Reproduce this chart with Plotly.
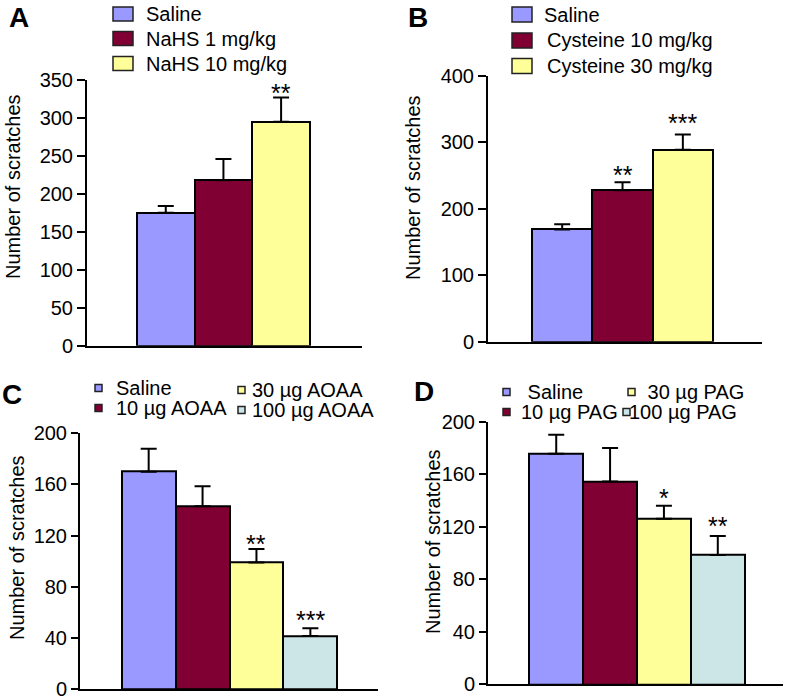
import plotly.graph_objects as go

W, H = 787, 699
FONT = "Liberation Sans, Arial, sans-serif"
BLUE = "#9999FF"
MAROON = "#800033"
YELLOW = "#FFFF99"
CYAN = "#CCE6E8"

# Panel A: NaHS
a_labels = ["Saline", "NaHS 1 mg/kg", "NaHS 10 mg/kg"]
a_mean = [175, 218, 295]
a_sem = [9, 28, 32]
a_stars = ["", "", "**"]
a_star_y = [None, None, 340]

# Panel B: Cysteine
b_labels = ["Saline", "Cysteine 10 mg/kg", "Cysteine 30 mg/kg"]
b_mean = [169, 228, 289]
b_sem = [8, 12, 23]
b_stars = ["", "**", "***"]
b_star_y = [None, 258, 337]

# Panel C: AOAA
c_labels = ["Saline", "10 µg AOAA", "30 µg AOAA", "100 µg AOAA"]
c_mean = [170, 143, 99, 41.5]
c_sem = [18, 15.5, 10.5, 6]
c_stars = ["", "", "**", "***"]
c_star_y = [None, None, 117, 58]

# Panel D: PAG
d_labels = ["Saline", "10 µg PAG", "30 µg PAG", "100 µg PAG"]
d_mean = [175.5, 154.5, 126, 98.5]
d_sem = [14.5, 25.5, 10, 14.5]
d_stars = ["", "", "*", "**"]
d_star_y = [None, None, 146, 124]

colors3 = [BLUE, MAROON, YELLOW]
colors4 = [BLUE, MAROON, YELLOW, CYAN]


def px(x):
    return x / W


def py(y):
    return 1 - y / H


fig = go.Figure()
annotations = []
shapes = []

panels = [
    # suffix, labels, means, sems, stars, star_y, colors, x px, y px, xrange, yrange, dtick, ticklen
    ("", a_labels, a_mean, a_sem, a_stars, a_star_y, colors3,
     (87, 362), (345.7, 80), (-1.366, 3.403), (0, 350), 50, 8),
    ("2", b_labels, b_mean, b_sem, b_stars, b_star_y, colors3,
     (488, 762), (341.7, 76), (-1.23, 3.312), (0, 400), 100, 8),
    ("3", c_labels, c_mean, c_sem, c_stars, c_star_y, colors4,
     (80, 378), (689, 433.3), (-1.274, 4.255), (0, 200), 40, 7),
    ("4", d_labels, d_mean, d_sem, d_stars, d_star_y, colors4,
     (488, 783), (684.3, 421.7), (-1.267, 4.211), (0, 200), 40, 7),
]

for suf, labels, means, sems, stars, star_y, cols, xp, yp, xr, yr, dtick, tl in panels:
    xs = list(range(len(means)))
    fig.add_trace(go.Bar(
        x=xs, y=means, width=1, xaxis="x" + suf, yaxis="y" + suf,
        marker=dict(color=cols, line=dict(color="black", width=2)),
        error_y=dict(type="data", array=sems, arrayminus=[0] * len(sems), symmetric=False,
                     color="black", thickness=2, width=8),
        showlegend=False, hoverinfo="skip",
    ))
    fig.update_layout(**{
        "xaxis" + suf: dict(domain=[px(xp[0]), px(xp[1])], range=list(xr), anchor="y" + suf,
                            showline=True, linecolor="black", linewidth=2, showgrid=False,
                            zeroline=False, showticklabels=False, ticks="", automargin=False),
        "yaxis" + suf: dict(domain=[py(yp[0]), py(yp[1])], range=list(yr), anchor="x" + suf,
                            showline=True, linecolor="black", linewidth=2, showgrid=False,
                            zeroline=False, ticks="outside", ticklen=tl, tickwidth=2,
                            tickcolor="black", dtick=dtick, automargin=False,
                            ticklabeloverflow="allow",
                            tickfont=dict(family=FONT, size=20, color="black")),
    })
    for i, (s, sy) in enumerate(zip(stars, star_y)):
        if s:
            annotations.append(dict(x=i, y=sy, xref="x" + suf, yref="y" + suf, text=s,
                                    showarrow=False, yanchor="middle", yshift=-5,
                                    font=dict(family=FONT, size=25, color="black")))

# y-axis titles
for x0, y0 in [(13, 187), (413, 188), (17, 548), (433, 542)]:
    annotations.append(dict(x=px(x0), y=py(y0), xref="paper", yref="paper",
                            text="Number of scratches", textangle=-90, showarrow=False,
                            xanchor="center", yanchor="middle",
                            font=dict(family=FONT, size=20, color="black")))

# panel letters
for letter, x0, y0 in [("A", 19, 17), ("B", 418, 17), ("C", 12, 395), ("D", 424, 391)]:
    annotations.append(dict(x=px(x0), y=py(y0), xref="paper", yref="paper",
                            text="<b>%s</b>" % letter, showarrow=False,
                            xanchor="center", yanchor="middle",
                            font=dict(family=FONT, size=28, color="black")))


def legend_item(label, color, bx, by, bw, bh, tx):
    shapes.append(dict(type="rect", xref="paper", yref="paper",
                       x0=px(bx), x1=px(bx + bw), y0=py(by + bh / 2), y1=py(by - bh / 2),
                       fillcolor=color, line=dict(color="#222222", width=1.5)))
    annotations.append(dict(x=px(tx), y=py(by), xref="paper", yref="paper", text=label,
                            showarrow=False, xanchor="left", yanchor="middle",
                            font=dict(family=FONT, size=20, color="black")))


# legends A and B (stacked)
for i, y0 in enumerate([14, 38.5, 63.5]):
    legend_item(a_labels[i], colors3[i], 113, y0, 20, 14, 144)
for i, y0 in enumerate([14.5, 40.5, 66]):
    legend_item(b_labels[i], colors3[i], 512, y0, 20, 15, 542 if i == 0 else 545)

# legend C (two columns)
legend_item(c_labels[0], colors4[0], 95, 388, 7, 7, 114)
legend_item(c_labels[1], colors4[1], 95, 408, 7, 7, 114)
legend_item(c_labels[2], colors4[2], 238, 390, 7, 7, 250)
legend_item(c_labels[3], colors4[3], 238, 410, 7, 7, 250)

# legend D (two columns)
legend_item(" " + d_labels[0], colors4[0], 503, 392, 7, 7, 520)
legend_item(d_labels[1], colors4[1], 503, 412, 7, 7, 519)
legend_item(" " + d_labels[2], colors4[2], 628, 392, 7, 7, 640)
legend_item(d_labels[3], colors4[3], 623, 412, 7, 7, 627)

fig.update_layout(
    template="none",
    width=W, height=H, autosize=False,
    margin=dict(l=0, r=0, t=0, b=0, pad=0, autoexpand=False),
    plot_bgcolor="white", paper_bgcolor="white",
    font=dict(family=FONT, color="black"),
    annotations=annotations, shapes=shapes, bargap=0,
)
fig.write_html("out.html", config={"displayModeBar": False},
               post_script="document.body.style.margin = '0';")
